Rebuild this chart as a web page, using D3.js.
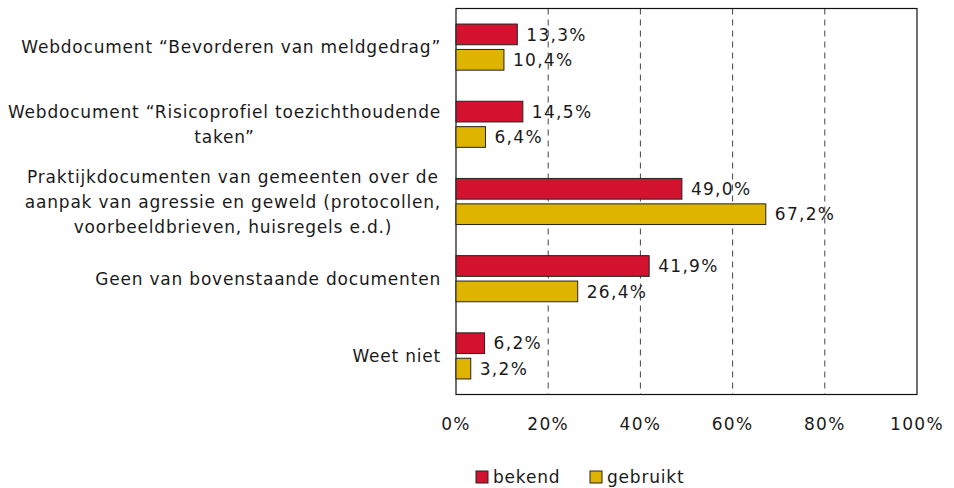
<!DOCTYPE html>
<html><head><meta charset="utf-8">
<script src="https://cdn.jsdelivr.net/npm/d3@7"></script>
<style>body{margin:0;background:#fff;} text{font-family:"DejaVu Sans",Verdana,sans-serif;fill:#1a1a1a;}</style>
</head><body>
<svg id="c" width="954" height="488"></svg>
<script>
const categories = [
  ["Webdocument \u201cBevorderen van meldgedrag\u201d"],
  ["Webdocument \u201cRisicoprofiel toezichthoudende", "taken\u201d"],
  ["Praktijkdocumenten van gemeenten over de", "aanpak van agressie en geweld (protocollen,", "voorbeeldbrieven, huisregels e.d.)"],
  ["Geen van bovenstaande documenten"],
  ["Weet niet"]
];
const seriesNames = ["bekend", "gebruikt"];
const bekend = [13.3, 14.5, 49.0, 41.9, 6.2];
const gebruikt = [10.4, 6.4, 67.2, 26.4, 3.2];
const ticks = [0, 20, 40, 60, 80, 100];
const colors = ["#D2122E", "#DFB400"];

const svg = d3.select("#c");
const fs = 17;
const lsText = 0.8, lsNum = 1.3;
const x = d3.scaleLinear().domain([0, 100]).range([456, 917]);
const y = d3.scaleBand().domain(d3.range(categories.length)).range([8.5, 394.5]);
const barH = 20.7, gapIn = 4.7;
const fmt = v => d3.format(".1f")(v).replace(".", ",") + "%";

// gridlines
svg.append("g").selectAll("line").data(ticks.filter(t => t > 0 && t < 100)).join("line")
  .attr("x1", d => x(d)).attr("x2", d => x(d)).attr("y1", y.range()[0]).attr("y2", y.range()[1])
  .attr("stroke", "#444").attr("stroke-width", 1).attr("stroke-dasharray", "6,5");

// frame
svg.append("rect").attr("x", x(0)).attr("y", y.range()[0]).attr("width", x(100) - x(0)).attr("height", y.range()[1] - y.range()[0])
  .attr("fill", "none").attr("stroke", "#111").attr("stroke-width", 1.2);

const series = [bekend, gebruikt];
series.forEach((vals, si) => {
  const g = svg.append("g");
  g.selectAll("rect").data(vals).join("rect")
    .attr("x", x(0)).attr("width", d => x(d) - x(0))
    .attr("y", (d, i) => y(i) + y.bandwidth() / 2 - barH - gapIn / 2 + si * (barH + gapIn))
    .attr("height", barH)
    .attr("fill", colors[si]).attr("stroke", "#222").attr("stroke-width", 1);
  g.selectAll("text").data(vals).join("text")
    .attr("x", d => x(d) + 9)
    .attr("y", (d, i) => y(i) + y.bandwidth() / 2 - barH / 2 - gapIn / 2 + si * (barH + gapIn))
    .attr("dy", "0.36em").attr("font-size", fs).attr("letter-spacing", lsNum).text(d => fmt(d));
});

// x axis labels
svg.append("g").selectAll("text").data(ticks).join("text")
  .attr("x", d => x(d)).attr("y", 424).attr("dy", "0.36em").attr("text-anchor", "middle")
  .attr("font-size", fs).attr("letter-spacing", lsNum).text(d => d + "%");

// category labels: centered lines, block right-aligned at 441
const lineH = 25;
categories.forEach((lines, i) => {
  const g = svg.append("g");
  const cy = y(i) + y.bandwidth() / 2;
  const ts = lines.map((l, j) => g.append("text").attr("font-size", fs).attr("letter-spacing", lsText)
    .attr("text-anchor", "middle")
    .attr("y", cy + (j - (lines.length - 1) / 2) * lineH).attr("dy", "0.36em").text(l));
  const w = d3.max(ts, t => t.node().getComputedTextLength());
  ts.forEach(t => t.attr("x", 441 - w / 2));
});

// legend
const leg = svg.append("g");
const legX = [476, 590];
seriesNames.forEach((n, i) => {
  leg.append("rect").attr("x", legX[i]).attr("y", 471).attr("width", 12).attr("height", 12)
    .attr("fill", colors[i]).attr("stroke", "#222").attr("stroke-width", 1);
  leg.append("text").attr("x", legX[i] + 17).attr("y", 477).attr("dy", "0.36em").attr("font-size", fs)
    .attr("letter-spacing", lsText).text(n);
});
</script>
</body></html>
